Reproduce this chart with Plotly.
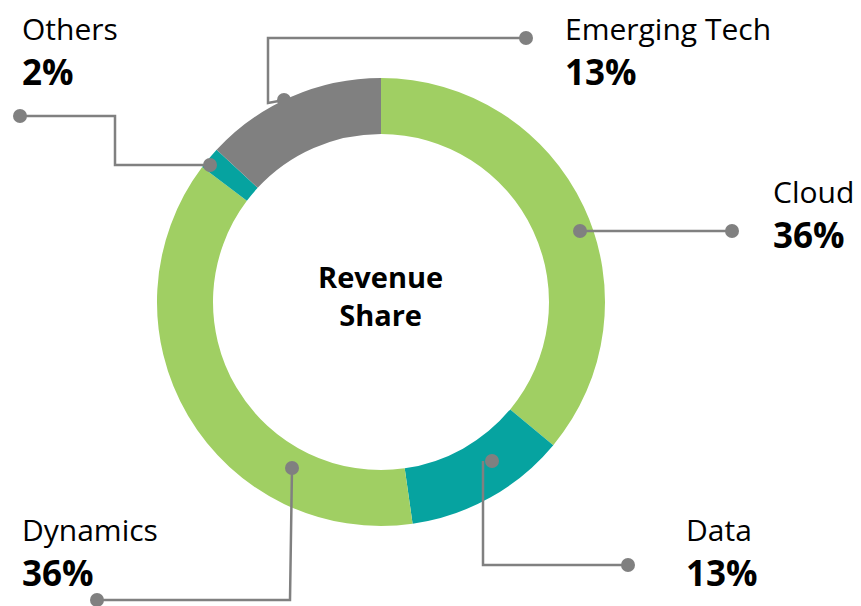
import plotly.graph_objects as go

W, H = 861, 606
OFF = 8  # page body margin in the browser

# Data
categories = ["Cloud", "Data", "Dynamics", "Others", "Emerging Tech"]
shares = [36.0, 11.7, 37.5, 1.6, 13.1]          # slice sizes as drawn
share_labels = ["36%", "13%", "36%", "2%", "13%"]  # labels as printed
colors = ["#A0CF63", "#06A3A0", "#A0CF63", "#06A3A0", "#808080"]
center_title = "Revenue<br>Share"

# Layout of callouts (screen pixel coords): connector path, dots, label anchor
callouts = {
    "Cloud": dict(path=[(580, 231), (732, 231)], dots=[(580, 231), (732, 231)], label=(773, 193)),
    "Data": dict(path=[(483, 461), (483, 565), (628, 565)], dots=[(492, 461), (628, 565)], label=(686, 531)),
    "Dynamics": dict(path=[(292, 468), (290, 600), (97, 600)], dots=[(292, 468), (97, 600)], label=(22, 531)),
    "Others": dict(path=[(20, 116), (115, 116), (115, 165), (210, 165)], dots=[(20, 116), (210, 165)], label=(22, 30)),
    "Emerging Tech": dict(path=[(526, 38), (268, 38), (268, 103), (284, 100)], dots=[(526, 38), (284, 100)], label=(565, 30)),
}

cx, cy, R = 381 - OFF, 302 - OFF, 224

fig = go.Figure()
fig.add_trace(go.Pie(
    labels=categories, values=shares, sort=False, direction="clockwise", rotation=0,
    hole=0.75, marker=dict(colors=colors, line=dict(width=0)),
    textinfo="none", hoverinfo="label", showlegend=False,
    domain=dict(x=[(cx - R) / W, (cx + R) / W], y=[1 - (cy + R) / H, 1 - (cy - R) / H]),
))

line_col = "#808080"
dot_r = 7
shapes = []
for name, c in callouts.items():
    pts = [(x - OFF, y - OFF) for x, y in c["path"]]
    d = "M " + " L ".join(f"{x},{y}" for x, y in pts)
    shapes.append(dict(type="path", path=d, xref="x", yref="y", layer="above",
                       line=dict(color=line_col, width=2.5)))
    for x, y in c["dots"]:
        x, y = x - OFF, y - OFF
        shapes.append(dict(type="circle", xref="x", yref="y", layer="above",
                           x0=x - dot_r, x1=x + dot_r, y0=y - dot_r, y1=y + dot_r,
                           fillcolor=line_col, line=dict(width=0)))

font_family = "Open Sans, Noto Sans, sans-serif"
annotations = []
for name, lab in zip(categories, share_labels):
    lx, ly = callouts[name]["label"]
    lx, ly = lx - OFF - 2, ly - OFF - 2
    annotations.append(dict(x=lx, y=ly, xref="x", yref="y", text=name, showarrow=False,
                            xanchor="left", yanchor="middle",
                            font=dict(family=font_family, size=30, color="#000000")))
    annotations.append(dict(x=lx, y=ly + 43, xref="x", yref="y", text=f"<b>{lab}</b>", showarrow=False,
                            xanchor="left", yanchor="middle",
                            font=dict(family=font_family, size=35, color="#000000")))
annotations.append(dict(x=cx - 1, y=cy - 7, xref="x", yref="y", text=f"<b>{center_title}</b>", showarrow=False,
                        xanchor="center", yanchor="middle",
                        font=dict(family=font_family, size=29, color="#000000")))

fig.update_layout(
    width=W, height=H, margin=dict(l=0, r=0, t=0, b=0),
    paper_bgcolor="white", plot_bgcolor="rgba(0,0,0,0)",
    xaxis=dict(range=[0, W], visible=False, fixedrange=True, domain=[0, 1]),
    yaxis=dict(range=[H, 0], visible=False, fixedrange=True, domain=[0, 1]),
    annotations=annotations, shapes=shapes,
)

fig.write_html("out.html")
